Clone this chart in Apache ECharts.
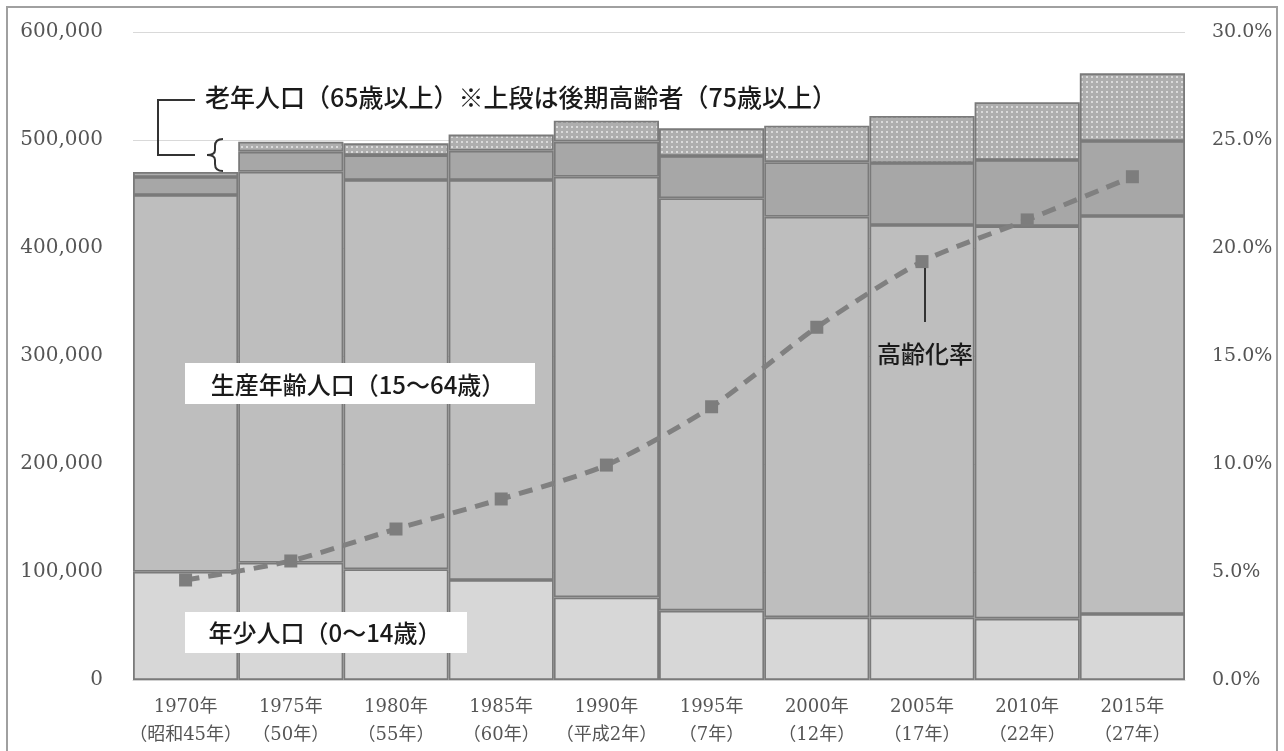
<!DOCTYPE html>
<html>
<head>
<meta charset="utf-8">
<script src="https://cdn.jsdelivr.net/npm/echarts@6/dist/echarts.min.js"></script>
<style>
html,body{margin:0;padding:0;background:#fff;}
#main{width:1284px;height:751px;}
</style>
</head>
<body>
<div id="main"></div>
<script>
// ---- data ----
const years = ['1970年','1975年','1980年','1985年','1990年','1995年','2000年','2005年','2010年','2015年'];
const eras = ['（昭和45年）','（50年）','（55年）','（60年）','（平成2年）','（7年）','（12年）','（17年）','（22年）','（27年）'];
const young = [100300,108600,102500,92600,76500,64200,58000,58000,56800,61100];
const working = [348800,362000,360400,370300,389500,381800,371000,363300,363500,368500];
const old6574 = [16600,18600,23100,27100,32500,39200,50500,57400,61200,69500];
const old75 = [4700,9200,10900,15000,19400,25600,33800,43500,53400,62600];
const agingRate = [4.63,5.51,6.99,8.38,9.95,12.65,16.33,19.37,21.3,23.3];

const categories = years.map((y,i)=>y+'\n'+eras[i]);

// dotted pattern for 75+
const pc = document.createElement('canvas');
pc.width = 5; pc.height = 5;
const pctx = pc.getContext('2d');
pctx.fillStyle = '#aeaeae';
pctx.fillRect(0,0,5,5);
pctx.fillStyle = '#dadada';
pctx.fillRect(1,1,2,2);

const chart = echarts.init(document.getElementById('main'));
const serif = "'DejaVu Serif', 'Noto Sans CJK JP'";
const border = {borderColor:'#7a7a7a', borderWidth:1.8};
const ink = {stroke:'#333', lineWidth:2, fill:'none'};
const jp = "500 24px 'Noto Sans CJK JP'";

chart.setOption({
  animation:false,
  backgroundColor:'#fff',
  grid:{left:133, right:99, top:32, bottom:71},
  xAxis:{
    type:'category',
    data:categories,
    axisLine:{lineStyle:{color:'#d0d0d0'}},
    axisTick:{show:false},
    axisLabel:{color:'#555', fontFamily:serif, fontSize:18, lineHeight:28, margin:13, interval:0}
  },
  yAxis:[{
    type:'value', min:0, max:600000, interval:100000,
    axisLine:{show:false}, axisTick:{show:false},
    splitLine:{lineStyle:{color:'#d9d9d9'}},
    axisLabel:{color:'#555', fontFamily:serif, fontSize:20, margin:30,
      formatter:v=>v.toLocaleString('en-US')}
  },{
    type:'value', min:0, max:30, interval:5,
    axisLine:{show:false}, axisTick:{show:false}, splitLine:{show:false},
    axisLabel:{color:'#555', fontFamily:serif, fontSize:19, margin:27,
      formatter:v=>v.toFixed(1)+'%'}
  }],
  series:[
    {name:'年少人口', type:'bar', stack:'p', data:young, barCategoryGap:'0%',
      itemStyle:Object.assign({color:'#d7d7d7'},border)},
    {name:'生産年齢人口', type:'bar', stack:'p', data:working,
      itemStyle:Object.assign({color:'#bebebe'},border)},
    {name:'前期高齢者', type:'bar', stack:'p', data:old6574,
      itemStyle:Object.assign({color:'#a7a7a7'},border)},
    {name:'後期高齢者', type:'bar', stack:'p', data:old75,
      itemStyle:Object.assign({color:{image:pc, repeat:'repeat'}},border)},
    {name:'高齢化率', type:'line', yAxisIndex:1, data:agingRate, smooth:0.25,
      symbol:'rect', symbolSize:13, z:5,
      itemStyle:{color:'#7d7d7d'},
      lineStyle:{color:'#808080', width:5, type:[14,9]}}
  ],
  graphic:[
    {type:'rect', z:100, shape:{x:7,y:7,width:1270,height:770}, style:{fill:'none', stroke:'#a0a0a0', lineWidth:2}, silent:true},
    {type:'text', z:100, x:205, y:97, style:{text:'老年人口（65歳以上）※上段は後期高齢者（75歳以上）', font:"500 25px 'Noto Sans CJK JP'", fill:'#1a1a1a', verticalAlign:'middle'}},
    {type:'polyline', z:100, shape:{points:[[195,100],[158,100],[158,155],[195,155]]}, style:ink},
    {type:'bezierCurve', z:100, shape:{x1:223,y1:139,x2:215,y2:146,cpx1:215,cpy1:139}, style:ink},
    {type:'line', z:100, shape:{x1:215,y1:146,x2:215,y2:150}, style:ink},
    {type:'bezierCurve', z:100, shape:{x1:215,y1:150,x2:207,y2:155,cpx1:215,cpy1:155}, style:ink},
    {type:'bezierCurve', z:100, shape:{x1:207,y1:155,x2:215,y2:160,cpx1:215,cpy1:155}, style:ink},
    {type:'line', z:100, shape:{x1:215,y1:160,x2:215,y2:164}, style:ink},
    {type:'bezierCurve', z:100, shape:{x1:215,y1:164,x2:223,y2:171,cpx1:215,cpy1:171}, style:ink},
    {type:'rect', z:100, shape:{x:185,y:363,width:350,height:41}, style:{fill:'#fff'}},
    {type:'text', z:101, x:358, y:385, style:{text:'生産年齢人口（15～64歳）', font:jp, fill:'#1a1a1a', align:'center', verticalAlign:'middle'}},
    {type:'rect', z:100, shape:{x:185,y:612,width:282,height:41}, style:{fill:'#fff'}},
    {type:'text', z:101, x:325, y:633, style:{text:'年少人口（0～14歳）', font:jp, fill:'#1a1a1a', align:'center', verticalAlign:'middle'}},
    {type:'line', z:100, shape:{x1:925,y1:268,x2:925,y2:322}, style:{stroke:'#333', lineWidth:2}},
    {type:'text', z:100, x:925, y:354, style:{text:'高齢化率', font:jp, fill:'#1a1a1a', align:'center', verticalAlign:'middle'}}
  ]
});
</script>
</body>
</html>
